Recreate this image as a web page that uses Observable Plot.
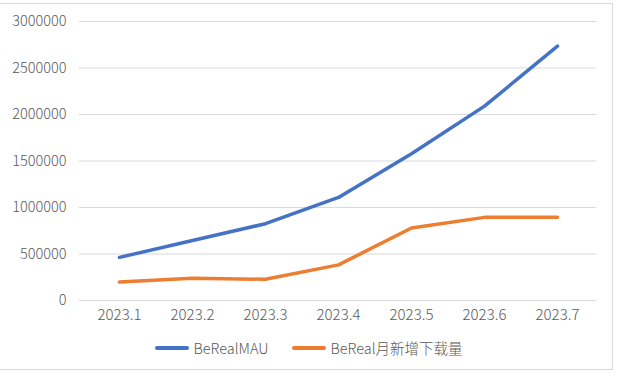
<!DOCTYPE html>
<html>
<head>
<meta charset="utf-8">
<script src="https://cdn.jsdelivr.net/npm/d3@7"></script>
<script src="https://cdn.jsdelivr.net/npm/@observablehq/plot@0.6"></script>
<style>
  body { margin: 0; background: #fff; font-family: "Noto Sans CJK SC", "Noto Sans", sans-serif; }
  #wrap { position: relative; width: 618px; height: 377px; overflow: hidden; }
  #frame { position: absolute; left: -1px; top: 3px; width: 614px; height: 367px; border: 1px solid #d9d9d9; box-sizing: border-box; }
  #chart { position: absolute; left: 0; top: 0; }
  #legend { position: absolute; left: 0; top: 337px; width: 618px; display: flex; justify-content: center; align-items: center; font-size: 14.5px; font-weight: 300; color: #595959; }
  .item { display: flex; align-items: center; margin: 0 12px; }
  .sw { width: 34px; height: 4px; border-radius: 2px; margin-right: 4px; }
</style>
</head>
<body>
<div id="wrap">
  <div id="frame"></div>
  <div id="chart"></div>
  <div id="legend"></div>
</div>
<script>
const months = ["2023.1", "2023.2", "2023.3", "2023.4", "2023.5", "2023.6", "2023.7"];
const mau = [464000, 645000, 826000, 1108000, 1578000, 2090000, 2735000];
const downloads = [198000, 240000, 228000, 383000, 780000, 894000, 894000];
const seriesNames = ["BeRealMAU", "BeReal月新增下载量"];
const seriesColors = ["#4472C4", "#ED7D31"];
const yTicks = [0, 500000, 1000000, 1500000, 2000000, 2500000, 3000000];

const data = [];
months.forEach((m, i) => {
  data.push({month: m, value: mau[i], series: seriesNames[0]});
  data.push({month: m, value: downloads[i], series: seriesNames[1]});
});

const chart = Plot.plot({
  width: 618,
  height: 330,
  marginLeft: 79,
  marginRight: 22,
  marginTop: 21,
  marginBottom: 30,
  style: {fontFamily: '"Noto Sans CJK SC", "Noto Sans", sans-serif', fontSize: "14.5px", fontWeight: 300, color: "#595959", background: "transparent"},
  x: {type: "point", domain: months, padding: 0.5, label: null},
  y: {domain: [0, 3000000], label: null},
  color: {domain: seriesNames, range: seriesColors},
  marks: [
    Plot.ruleY(yTicks, {stroke: "#d9d9d9", strokeWidth: 1}),
    Plot.axisY({ticks: yTicks, tickSize: 0, tickPadding: 13, tickFormat: d => String(d), label: null, fill: "#595959"}),
    Plot.axisX({tickSize: 0, tickPadding: 9, label: null, fill: "#595959", fontSize: 15}),
    Plot.line(data, {x: "month", y: "value", z: "series", stroke: "series", strokeWidth: 3.5, strokeLinecap: "round", strokeLinejoin: "round"})
  ]
});
document.getElementById("chart").appendChild(chart);

const legend = document.getElementById("legend");
seriesNames.forEach((name, i) => {
  const item = document.createElement("div");
  item.className = "item";
  const sw = document.createElement("div");
  sw.className = "sw";
  sw.style.background = seriesColors[i];
  const t = document.createElement("span");
  t.textContent = name;
  item.appendChild(sw);
  item.appendChild(t);
  legend.appendChild(item);
});
</script>
</body>
</html>
